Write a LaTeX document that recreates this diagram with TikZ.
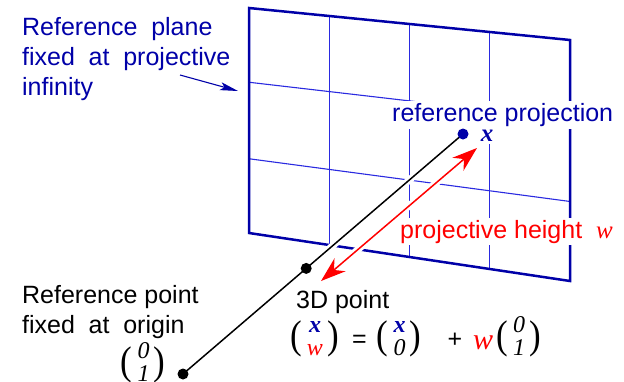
\documentclass[tikz,border=0pt]{standalone}
\usepackage{fontspec}
\setmainfont{Liberation Sans}
\newfontfamily\timesfont{Liberation Serif}
\usepackage{graphicx}
\usepackage{tikz}
\usetikzlibrary{arrows.meta,calc}
\usepackage{xcolor}
\definecolor{rpBlue}{HTML}{0000A8}
\definecolor{rpGrid}{HTML}{2A2AE0}
\definecolor{rpRed}{HTML}{FF0000}
% vector entries
\newcommand{\vx}{{\timesfont\bfseries\itshape\color{rpBlue}x}}
\newcommand{\vw}{{\timesfont\itshape\color{rpRed}w}}
\newcommand{\vnum}[1]{{\timesfont\itshape #1}}
\newcommand{\bigparen}[1]{$\vcenter{\hbox{\scalebox{1.4}[1.6]{\timesfont #1}}}$}
\newcommand{\colvec}[2]{\bigparen{(}$\vcenter{\hbox{\fontsize{24}{23}\selectfont
    \begin{tabular}{@{\hspace{5pt}}c@{\hspace{4pt}}}#1\\#2\end{tabular}}}$\bigparen{)}}
\newcommand{\wsp}{\hspace{0.55em}}
\tikzset{
    every picture/.style={font=\fontsize{25}{30}\selectfont},
    plane/.style={draw=rpBlue, line width=2.5pt, line join=miter},
    gridline/.style={draw=rpGrid, line width=1.1pt},
    note/.style={inner sep=0pt, align=left},
    whitenote/.style={fill=white, inner sep=2pt},
    vec/.style={inner sep=0pt, anchor=center},
    dot/.style={circle, fill=black, inner sep=0pt, minimum size=11pt},
    halo/.style={draw=white, line width=7pt},
    pointer/.style={>={Stealth[length=18pt,width=8pt,inset=4pt]}, ->, rpBlue, line width=1.1pt},
    height/.style={>={Stealth[length=25pt,width=17pt,inset=8pt]}, <->, rpRed, line width=1.5pt}
}

\begin{document}
\begin{tikzpicture}[x=1pt,y=-1pt]
    \useasboundingbox (0,0) rectangle (624,381);
    % Plane corners
    \coordinate (tl) at (249,8);
    \coordinate (tr) at (570,40);
    \coordinate (br) at (570,281);
    \coordinate (bl) at (249,233);
    % Grid and frame
    \foreach \f in {0.25,0.5,0.75}
        \draw[gridline] ($(tl)!\f!(tr)$) -- ($(bl)!\f!(br)$);
    \foreach \f in {0.33,0.67}
        \draw[gridline] ($(tl)!\f!(bl)$) -- ($(tr)!\f!(br)$);
    \draw[plane] (tl) -- (tr) -- (br) -- (bl) -- cycle;
    % Texts
    \node[note, text=rpBlue, anchor=north west] (planenote) at (22,17)
        {Reference\wsp plane\\fixed\wsp at\wsp projective\\infinity};
    \node[note, anchor=north west] (originnote) at (22,285)
        {Reference point\\fixed\wsp at\wsp origin};
    \node[whitenote, anchor=center] (xlabel) at (487,136) {\vx};
    \node[whitenote, text=rpBlue, anchor=north west] (projnote) at (390,101) {reference projection};
    \node[whitenote, text=rpRed, anchor=base west] (heightnote) at (398,238)
        {projective height\wsp\vw};
    \node[note, anchor=base west] (pointnote) at (296,308) {3D point};
    % Formula
    \node[vec] (vecpoint) at (314.5,339) {\colvec{\vx}{\vw}};
    \node[vec] (eq) at (359.5,341) {=};
    \node[vec] (vecproj) at (399,339) {\colvec{\vx}{\vnum{0}}};
    \node[vec] (plus) at (455,340) {+};
    \node[note, anchor=base] (wfactor) at (483,349) {\fontsize{30}{30}\selectfont\vw};
    \node[vec] (vecorig) at (518.5,339) {\colvec{\vnum{0}}{\vnum{1}}};
    \node[vec] (originvec) at (143,365) {\colvec{\vnum{0}}{\vnum{1}}};
    % Line through origin
    \coordinate (o) at (183,374);
    \coordinate (p) at (463,134);
    \coordinate (m) at ($(o)!0.44!(p)$);
    \draw[halo] (o) -- (p);
    \draw[black, line width=1.5pt] (o) -- (p);
    \node[dot] (origin) at (o) {};
    \node[dot] (point) at (m) {};
    \node[dot, fill=rpBlue] (proj) at (p) {};
    % Projective height
    \coordinate (hlow) at (321,281);
    \coordinate (hhigh) at (477,148);
    \draw[halo] (hlow) -- (hhigh);
    \draw[height] (hlow) -- (hhigh);
    % Pointer to plane
    \coordinate (tail) at (180,75);
    \coordinate (tip) at (238,91);
    \draw[pointer] (tail) -- (tip);
\end{tikzpicture}
\end{document}
